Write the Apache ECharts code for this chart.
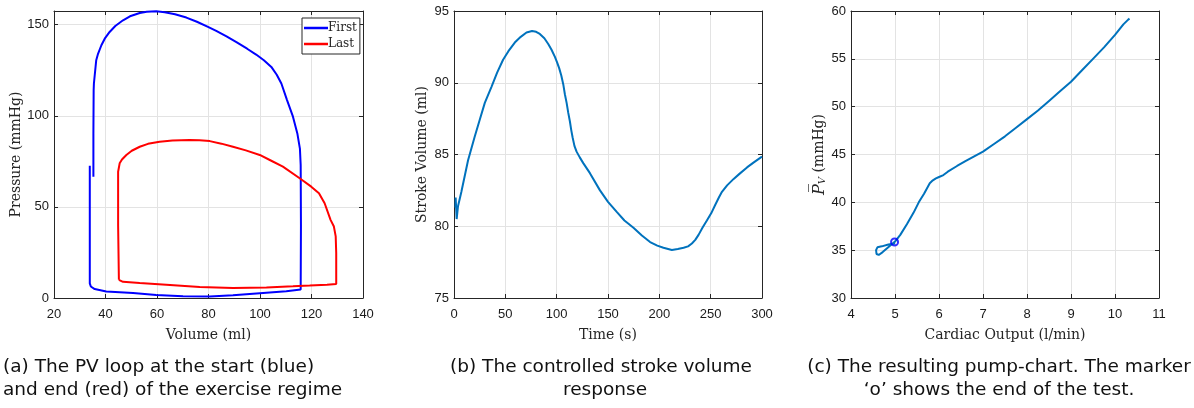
<!DOCTYPE html>
<html>
<head>
<meta charset="utf-8">
<script src="https://cdn.jsdelivr.net/npm/echarts@6/dist/echarts.min.js"></script>
<style>html,body{margin:0;padding:0;background:#fff}#c{width:1194px;height:408px}</style>
</head>
<body>
<div id="c"></div>
<script>
// ---- Data ----
// (a) PV loops: [volume (ml), pressure (mmHg)]
const firstLoop = [[33.9,72.6],[33.9,40],[33.9,8],[34.3,6.3],[35.8,4.9],[40.3,3.6],[50.7,2.7],[59.7,1.6],[70.1,0.9],[80.5,0.8],[89.5,1.5],[99.9,2.6],[110.2,3.7],[115.8,4.6],[115.9,40],[115.8,73],[115.5,82],[114.5,90.3],[112.8,99.5],[110.5,108.6],[108.3,117.7],[106.5,122.5],[104.4,126.8],[101.5,130.5],[98.5,133.6],[95,136.8],[91,140.3],[87,143.6],[83,146.6],[79.8,148.8],[75.5,151.6],[71.4,153.9],[67,155.7],[63,156.8],[59.7,157.3],[56,157.1],[53.3,156.4],[49.5,154.6],[46.8,152.4],[43.8,149.3],[41.6,146],[39.7,142.3],[38.4,138.7],[37.1,134],[36.4,130.5],[35.5,117.7],[35.4,114],[35.3,90],[35.3,66.6]];
const lastLoop = [[45.2,10],[46.8,8.9],[53.3,8.2],[63.6,7.3],[76.6,6.0],[89.5,5.5],[102.5,5.8],[112.8,6.4],[119.3,6.8],[126,7.3],[129.6,7.7],[129.6,24.6],[129.4,33.8],[128.7,39.2],[127.4,42.9],[125.1,52],[122.9,57.5],[119.9,61.1],[115.4,65.7],[108.9,72.1],[104,75.6],[99.9,78.5],[94.5,81],[89.5,83],[85,84.7],[80.5,86.1],[76.5,86.6],[72.7,86.7],[66,86.4],[61,85.8],[56.5,84.6],[53.3,83],[50.2,80.8],[48.1,78.5],[46.4,76],[45.5,73.9],[44.9,69.3],[44.9,40],[45.2,10]];
const loopNames = ['First','Last'];
// (b) stroke volume response: [time (s), stroke volume (ml)]
const strokeVolume = [[1.4,81.3],[1.6,82.0],[2.6,80.5],[3.9,81.4],[7.2,82.4],[13.7,84.6],[20,86.2],[25,87.4],[30,88.6],[36.4,89.7],[42,90.7],[47.8,91.6],[53,92.2],[59.2,92.8],[65,93.2],[70.6,93.5],[76,93.6],[80,93.55],[83.6,93.4],[88,93.1],[91.8,92.7],[95,92.3],[98.3,91.8],[100.5,91.4],[102.5,91.0],[104.5,90.5],[106.4,89.9],[108,89.2],[109.7,88.6],[111.3,87.9],[112.9,87.3],[114.2,86.7],[115.5,86.2],[117.3,85.6],[119.4,85.2],[122.5,84.8],[125.9,84.4],[132.4,83.7],[142.2,82.5],[150,81.7],[158.5,81.0],[166,80.4],[174.8,79.9],[183,79.35],[191,78.9],[198,78.65],[204,78.5],[212.2,78.35],[218,78.42],[223.6,78.5],[228,78.6],[231.7,78.8],[235,79.05],[238.2,79.4],[242,79.9],[246.3,80.4],[250.5,80.9],[254.5,81.5],[258,82.0],[261,82.4],[266,82.85],[272.4,83.3],[278,83.65],[285.4,84.1],[292,84.45],[300,84.85]];
// (c) pump chart: [cardiac output (l/min), mean ventricular pressure (mmHg)]
const pumpChart = [[5.0,35.7],[4.85,35.6],[4.7,35.4],[4.6,35.3],[4.57,35.0],[4.58,34.6],[4.63,34.5],[4.72,34.8],[4.82,35.2],[4.92,35.6],[5.0,35.9],[5.12,36.6],[5.27,37.7],[5.42,38.9],[5.54,40.0],[5.66,40.9],[5.79,42.0],[5.86,42.3],[5.93,42.5],[6.0,42.65],[6.1,42.85],[6.2,43.2],[6.41,43.8],[6.6,44.3],[6.8,44.8],[7.0,45.3],[7.25,46.1],[7.5,46.9],[7.75,47.8],[8.0,48.7],[8.25,49.6],[8.5,50.6],[8.75,51.6],[9.0,52.6],[9.25,53.8],[9.5,55.0],[9.75,56.2],[10.0,57.5],[10.19,58.6],[10.3,59.1],[10.33,59.2]];
const endMarker = [[4.99,35.85]];
// axis ranges / ticks
const xTicksA = {min:20, max:140, interval:20}, yTicksA = {min:0, max:157.5, interval:50};
const xTicksB = {min:0, max:300, interval:50}, yTicksB = {min:75, max:95, interval:5};
const xTicksC = {min:4, max:11, interval:1}, yTicksC = {min:30, max:60, interval:5};
const axisTitles = {ax:'Volume (ml)', ay:'Pressure (mmHg)', bx:'Time (s)', by:'Stroke Volume (ml)', cx:'Cardiac Output (l/min)'};
const captions = [
  ['(a) The PV loop at the start (blue)','and end (red) of the exercise regime'],
  ['(b) The controlled stroke volume','response'],
  ['(c) The resulting pump-chart. The marker','\u2018o\u2019 shows the end of the test.']
];

// ---- Layout ----
const grids = [
  {left:54, top:11, width:309, height:287},
  {left:454, top:11, width:308, height:287},
  {left:851, top:11, width:308, height:287}
];
const axisColor = '#262626';
const tickFont = {fontFamily:'Liberation Sans, Arial, sans-serif', fontSize:13, color:'#1a1a1a'};
const titleFont = {fontFamily:'DejaVu Serif, serif', fontSize:14, color:axisColor};
const capFont = '18.5px "DejaVu Sans", sans-serif';

function mkX(gi, t, pos, name){
  return Object.assign({
    type:'value', gridIndex:gi, position:pos,
    axisLine:{show:true, onZero:false, lineStyle:{color:axisColor, width:1}},
    axisTick:{show:true, inside:true, length:4, lineStyle:{color:axisColor}},
    axisLabel:Object.assign({show:pos==='bottom', margin:10, showMaxLabel:true}, tickFont),
    splitLine:{show:pos==='bottom', lineStyle:{color:'#e3e3e3', width:1}},
    name: pos==='bottom' ? name : '', nameLocation:'middle', nameGap:30, nameTextStyle:titleFont
  }, t);
}
function mkY(gi, t, pos, name, gap, extra){
  return Object.assign({
    type:'value', gridIndex:gi, position:pos,
    axisLine:{show:true, onZero:false, lineStyle:{color:axisColor, width:1}},
    axisTick:{show:true, inside:true, length:4, lineStyle:{color:axisColor}},
    axisLabel:Object.assign({show:pos==='left', margin:5, showMaxLabel:(t.max % t.interval === 0)}, tickFont),
    splitLine:{show:pos==='left', lineStyle:{color:'#e3e3e3', width:1}},
    name: pos==='left' ? name : '', nameLocation:'middle', nameGap:gap, nameTextStyle:Object.assign({}, titleFont, extra||{})
  }, t);
}

const option = {
  animation:false,
  backgroundColor:'#fff',
  grid: grids,
  xAxis:[
    mkX(0, xTicksA, 'bottom', axisTitles.ax), mkX(0, xTicksA, 'top', ''),
    mkX(1, xTicksB, 'bottom', axisTitles.bx), mkX(1, xTicksB, 'top', ''),
    mkX(2, xTicksC, 'bottom', axisTitles.cx), mkX(2, xTicksC, 'top', '')
  ],
  yAxis:[
    mkY(0, yTicksA, 'left', axisTitles.ay, 27), mkY(0, yTicksA, 'right', '', 0),
    mkY(1, yTicksB, 'left', axisTitles.by, 25), mkY(1, yTicksB, 'right', '', 0),
    mkY(2, yTicksC, 'left', '{p|P\u0305}{s|V} (mmHg)', 21, {
      rich:{
        p:{fontFamily:'DejaVu Serif, serif', fontStyle:'italic', fontSize:16, color:axisColor},
        s:{fontFamily:'DejaVu Serif, serif', fontStyle:'italic', fontSize:10, color:axisColor, verticalAlign:'bottom', padding:[6,0,0,0]}
      }
    }), mkY(2, yTicksC, 'right', '', 0)
  ],
  legend:{
    left:302, top:18, orient:'vertical',
    data:loopNames,
    icon:'rect', itemWidth:24, itemHeight:2.5, itemGap:2,
    backgroundColor:'#fff', borderColor:axisColor, borderWidth:1, borderRadius:0,
    padding:[3,3,3,2],
    textStyle:{fontFamily:'DejaVu Serif, serif', fontSize:12, color:axisColor, lineHeight:14, padding:[0,0,0,-5]}
  },
  series:[
    {name:loopNames[0], type:'line', xAxisIndex:0, yAxisIndex:0, data:firstLoop, showSymbol:false, symbol:'none',
     lineStyle:{color:'#0000ff', width:2}, itemStyle:{color:'#0000ff'}},
    {name:loopNames[1], type:'line', xAxisIndex:0, yAxisIndex:0, data:lastLoop, showSymbol:false, symbol:'none',
     lineStyle:{color:'#ff0000', width:2}, itemStyle:{color:'#ff0000'}},
    {type:'line', xAxisIndex:2, yAxisIndex:2, data:strokeVolume, showSymbol:false, symbol:'none',
     lineStyle:{color:'#0072bd', width:2}},
    {type:'line', xAxisIndex:4, yAxisIndex:4, data:pumpChart, showSymbol:false, symbol:'none',
     lineStyle:{color:'#0072bd', width:2}},
    {type:'scatter', xAxisIndex:4, yAxisIndex:4, data:endMarker, symbol:'circle', symbolSize:7,
     itemStyle:{color:'rgba(0,0,0,0)', borderColor:'#0000ff', borderWidth:2}, z:5}
  ],
  graphic:[
    {type:'text', x:3, y:358, style:{text:captions[0][0], textVerticalAlign:'top', font:capFont, fill:'#111'}},
    {type:'text', x:3, y:381, style:{text:captions[0][1], textVerticalAlign:'top', font:capFont, fill:'#111'}},
    {type:'text', x:601, y:358, style:{text:captions[1][0], textAlign:'center', textVerticalAlign:'top', font:capFont, fill:'#111'}},
    {type:'text', x:605, y:381, style:{text:captions[1][1], textAlign:'center', textVerticalAlign:'top', font:capFont, fill:'#111'}},
    {type:'text', x:999, y:358, style:{text:captions[2][0], textAlign:'center', textVerticalAlign:'top', font:capFont, fill:'#111'}},
    {type:'text', x:999, y:381, style:{text:captions[2][1], textAlign:'center', textVerticalAlign:'top', font:capFont, fill:'#111'}}
  ]
};
const chart = echarts.init(document.getElementById('c'), null, {renderer:'canvas'});
chart.setOption(option);
</script>
</body>
</html>
